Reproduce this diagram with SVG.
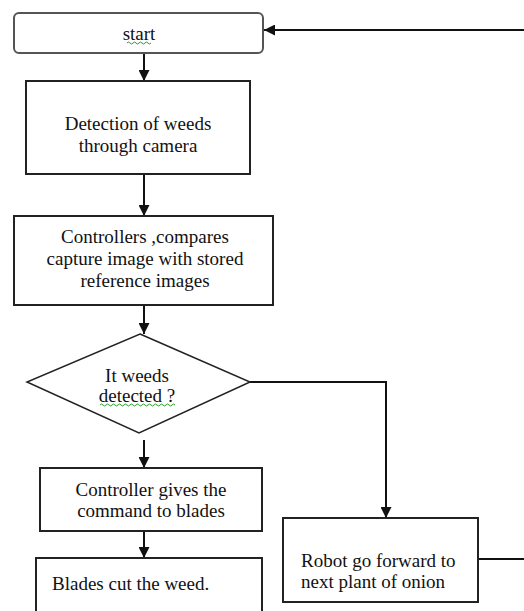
<svg xmlns="http://www.w3.org/2000/svg" width="524" height="611" viewBox="0 0 524 611">
<style>
.box{fill:#fff;stroke:#222;stroke-width:2}
.start{fill:#fff;stroke:#555;stroke-width:2}
.t{font-family:"Liberation Serif","Times New Roman",serif;font-size:19px;fill:#111}
.c{text-anchor:middle}
.ln{fill:none;stroke:#111;stroke-width:2}
.sq{fill:none;stroke:#2a9a2a;stroke-width:1}
</style>
<defs>
<marker id="ah" viewBox="0 0 10 10" refX="10" refY="5" markerWidth="5.5" markerHeight="5.5" orient="auto" markerUnits="strokeWidth">
<path d="M0,0 L10,5 L0,10 z" fill="#111"/>
</marker>
</defs>
<rect width="524" height="611" fill="#fff"/>
<g id="connectors">
<path class="ln" d="M144,53 V81" marker-end="url(#ah)"/>
<path class="ln" d="M144,174 V216" marker-end="url(#ah)"/>
<path class="ln" d="M144,305 V334" marker-end="url(#ah)"/>
<path class="ln" d="M144,440 V468" marker-end="url(#ah)"/>
<path class="ln" d="M144,531 V558" marker-end="url(#ah)"/>
<path class="ln" d="M250,382 H386 V518" marker-end="url(#ah)"/>
<path class="ln" d="M478,559 H530 V30 H264" marker-end="url(#ah)"/>
</g>
<g id="start">
<rect class="start" x="14" y="13" width="249" height="40" rx="5"/>
<text class="t c" x="139" y="40">start</text>
<path class="sq" d="M127,43 q1.5,-2 3,0 t3,0 t3,0 t3,0 t3,0 t3,0 t3,0 t3,0"/>
</g>
<g id="detection">
<rect class="box" x="26" y="81" width="224" height="93"/>
<text class="t c" x="138" y="130">Detection of weeds</text>
<text class="t c" x="138" y="152">through camera</text>
</g>
<g id="compare">
<rect class="box" x="14" y="216" width="259" height="89"/>
<text class="t c" x="145" y="243">Controllers ,compares</text>
<text class="t c" x="145" y="265">capture image with stored</text>
<text class="t c" x="145" y="287">reference images</text>
</g>
<g id="decision">
<path class="box" d="M140,334 L250,382 L139,433 L27,382 Z" style="stroke-width:1.5"/>
<text class="t c" x="137" y="382">It weeds</text>
<text class="t c" x="137" y="402">detected ?</text>
<path class="sq" d="M100,405 q1.5,-2 3,0 t3,0 t3,0 t3,0 t3,0 t3,0 t3,0 t3,0 t3,0 t3,0 t3,0 t3,0 t3,0 t3,0 t3,0 t3,0 t3,0 t3,0 t3,0 t3,0 t3,0 t3,0 t3,0 t3,0 t3,0"/>
</g>
<g id="command">
<rect class="box" x="40" y="468" width="222" height="63"/>
<text class="t c" x="151" y="496">Controller gives the</text>
<text class="t c" x="151" y="517">command to blades</text>
</g>
<g id="cut">
<rect class="box" x="36" y="558" width="226" height="70"/>
<text class="t" x="52" y="590">Blades cut the weed.</text>
</g>
<g id="forward">
<rect class="box" x="283" y="518" width="195" height="84"/>
<text class="t" x="301" y="567">Robot go forward to</text>
<text class="t" x="301" y="588">next plant of onion</text>
</g>
</svg>
